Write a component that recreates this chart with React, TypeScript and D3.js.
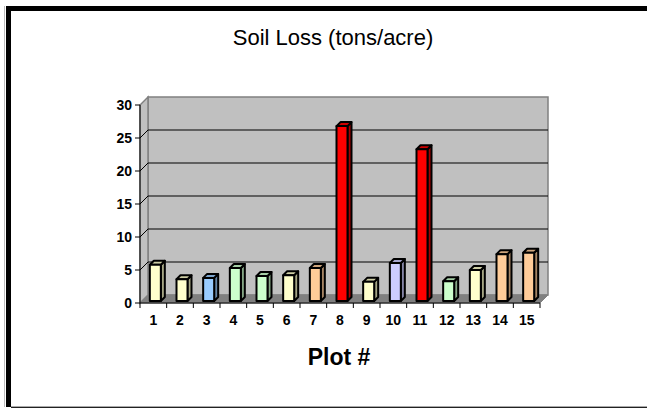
import React from "react";
import * as d3 from "d3";

const categories = ["1","2","3","4","5","6","7","8","9","10","11","12","13","14","15"];
const values = [5.5, 3.3, 3.5, 5.0, 3.8, 3.9, 5.0, 26.5, 2.9, 5.75, 23.0, 3.0, 4.7, 7.1, 7.3];
const colors = ["#FFFFCC","#FFFFCC","#99CCFF","#CCFFCC","#CCFFCC","#FFFFCC","#FFCC99","#FF0000","#FFFFCC","#CCCCFF","#FF0000","#CCFFCC","#FFFFCC","#FFCC99","#FFCC99"];
const yTicks = [0, 5, 10, 15, 20, 25, 30];
const title = "Soil Loss (tons/acre)";
const xTitle = "Plot #";

const W = 647, H = 409;
const DX = 8, DY = -8; // full depth offset
const font = "'Liberation Sans', Arial, sans-serif";

export default function App() {
  const x = d3.scaleBand<string>().domain(categories).range([140, 540]).padding(0);
  const y = d3.scaleLinear().domain([0, 30]).range([303, 105]);
  const bw = x.bandwidth();
  const barW = 11;
  const d0 = 0.25, d1 = 0.75; // bar depth fraction
  const sx = DX * (d1 - d0), sy = DY * (d1 - d0);

  const x0 = 140, x1 = 540;
  const y0 = y(0), yTop = y(30);

  return (
    <svg width={W} height={H} style={{ position: "absolute", left: 0, top: 0 }}>
      <rect x={0} y={0} width={W} height={H} fill="#fff" />
      {/* frame */}
      <line x1={4.5} y1={6} x2={4.5} y2={407} stroke="#bbb" strokeWidth={1} />
      <rect x={6} y={6} width={5} height={401} fill="#000" />
      <rect x={6} y={6} width={641} height={5} fill="#000" />
      <line x1={11} y1={406.5} x2={647} y2={406.5} stroke="#aaa" strokeWidth={1} />
      <line x1={11} y1={407.5} x2={647} y2={407.5} stroke="#222" strokeWidth={1} />

      <text x={333} y={45} textAnchor="middle" fontFamily={font} fontSize={22} fill="#000">{title}</text>

      {/* back wall */}
      <rect x={x0 + DX} y={yTop + DY} width={x1 - x0} height={y0 - yTop} fill="#C0C0C0" stroke="#808080" strokeWidth={1.5} />
      {/* side wall */}
      <polygon points={`${x0},${y0} ${x0},${yTop} ${x0 + DX},${yTop + DY} ${x0 + DX},${y0 + DY}`} fill="#C0C0C0" stroke="#808080" strokeWidth={1.5} />
      {/* floor */}
      <polygon points={`${x0},${y0} ${x1},${y0} ${x1 + DX},${y0 + DY} ${x0 + DX},${y0 + DY}`} fill="#808080" stroke="#808080" strokeWidth={1} />
      {/* gridlines */}
      {yTicks.filter(t => t > 0 && t < 30).map(t => (
        <g key={t}>
          <line x1={x0} y1={y(t)} x2={x0 + DX} y2={y(t) + DY} stroke="#000" strokeWidth={1} />
          <line x1={x0 + DX} y1={y(t) + DY} x2={x1 + DX} y2={y(t) + DY} stroke="#000" strokeWidth={1} />
        </g>
      ))}

      {/* bars */}
      {categories.map((c, i) => {
        const v = values[i];
        const bx = (x(c) as number) + bw / 2 - barW / 2 + DX * d0;
        const by0 = y0 + DY * d0;
        const byT = y(v) + DY * d0;
        const col = colors[i];
        const side = d3.color(col)!.darker(1.2).formatHex();
        const top = d3.color(col)!.darker(0.6).formatHex();
        return (
          <g key={c} stroke="#000" strokeWidth={2} strokeLinejoin="round">
            <polygon points={`${bx + barW},${by0} ${bx + barW + sx},${by0 + sy} ${bx + barW + sx},${byT + sy} ${bx + barW},${byT}`} fill={side} />
            <polygon points={`${bx},${byT} ${bx + barW},${byT} ${bx + barW + sx},${byT + sy} ${bx + sx},${byT + sy}`} fill={top} />
            <rect x={bx} y={byT} width={barW} height={by0 - byT} fill={col} />
          </g>
        );
      })}

      {/* axes */}
      <line x1={x0} y1={yTop} x2={x0} y2={y0} stroke="#000" strokeWidth={1} />
      {yTicks.map(t => (
        <g key={t}>
          <line x1={x0 - 5} y1={y(t)} x2={x0} y2={y(t)} stroke="#000" strokeWidth={1} />
          <text x={132} y={y(t) + 5} textAnchor="end" fontFamily={font} fontSize={14} fontWeight="bold" fill="#000">{t}</text>
        </g>
      ))}
      <line x1={x0} y1={y0} x2={x1} y2={y0} stroke="#000" strokeWidth={1} />
      {categories.map(c => (
        <line key={"t" + c} x1={x(c)} y1={y0} x2={x(c)} y2={y0 + 5} stroke="#000" strokeWidth={1} />
      ))}
      <line x1={x1} y1={y0} x2={x1} y2={y0 + 5} stroke="#000" strokeWidth={1} />
      {categories.map(c => (
        <text key={"l" + c} x={(x(c) as number) + bw / 2} y={325} textAnchor="middle" fontFamily={font} fontSize={14} fontWeight="bold" fill="#000">{c}</text>
      ))}
      <text x={339} y={365} textAnchor="middle" fontFamily={font} fontSize={23} fontWeight="bold" fill="#000">{xTitle}</text>
    </svg>
  );
}
